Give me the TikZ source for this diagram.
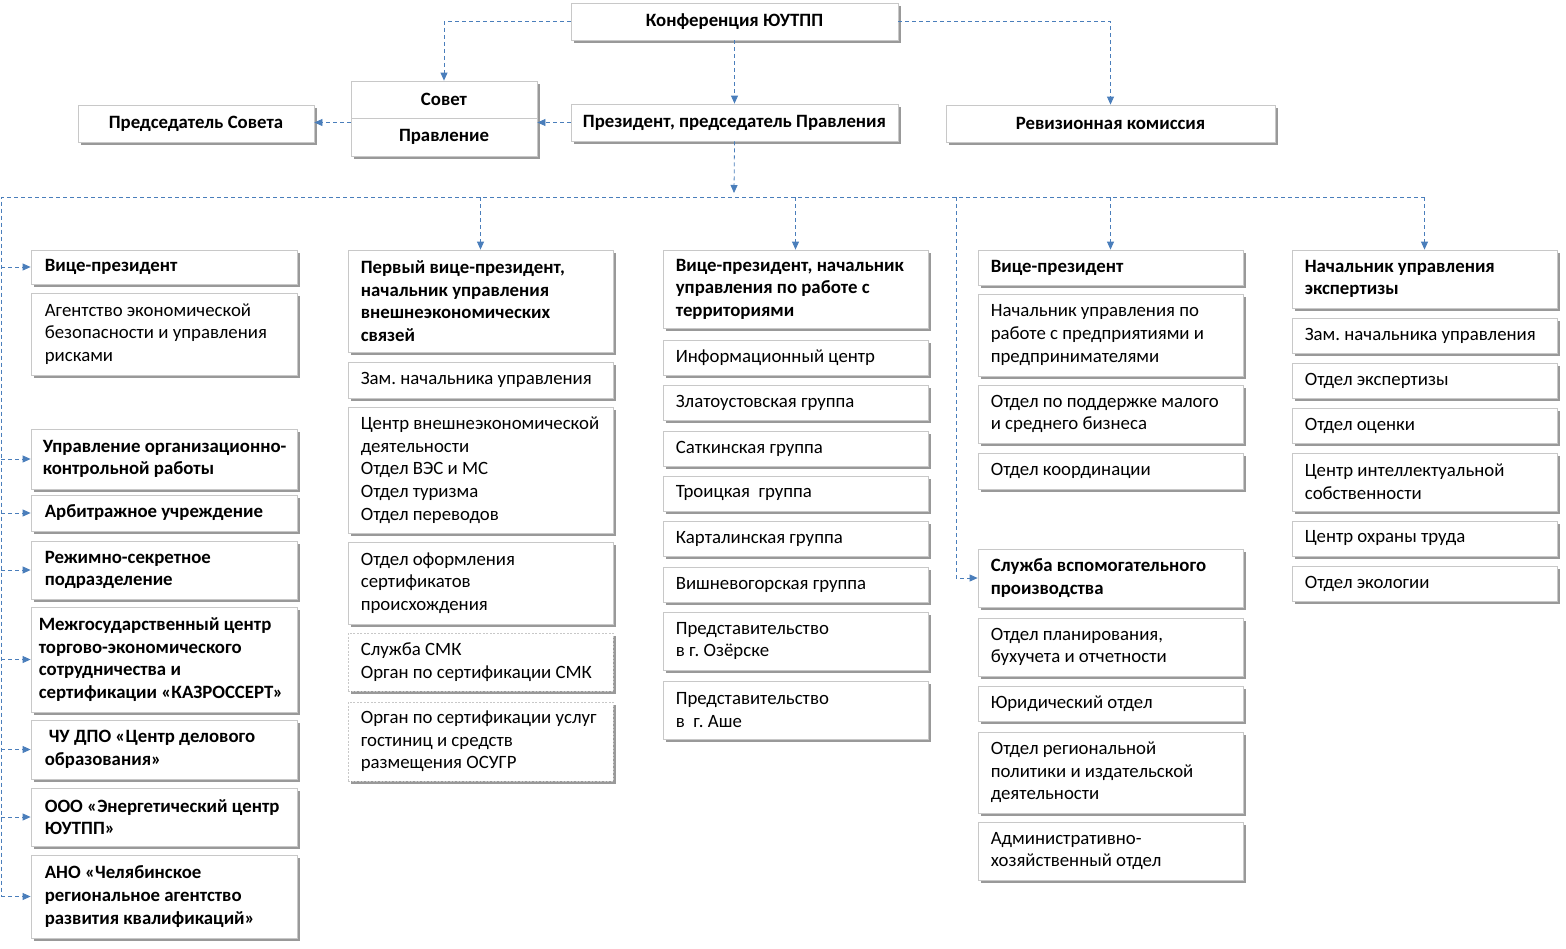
\documentclass[tikz,border=0pt]{standalone}
\usepackage{fontspec}
\setmainfont{Carlito}
\usetikzlibrary{arrows.meta,shadows}
\frenchspacing
\definecolor{lnk}{HTML}{4A7EBB}
\definecolor{bord}{HTML}{C8C8C8}
\newcommand\ob[8][14]{%
  \pgfmathsetmacro\cx{(#4+#6)/2}%
  \pgfmathsetmacro\cy{(#5+#7)/2}%
  \pgfmathsetmacro\bw{#6-#4}%
  \pgfmathsetmacro\bh{#7-#5}%
  \node[box,#2,minimum width=\bw pt,minimum height=\bh pt] (#3) at (\cx,\cy) {};
  \node[txt,#2,anchor=west] (#3-t) at ([xshift=#1pt]#3.west) {#8};
}
\begin{document}
\begin{tikzpicture}[x=1pt,y=-1pt,
  box/.style={draw=bord,line width=0.8pt,fill=white,inner sep=0pt,
    drop shadow={shadow xshift=2.5pt,shadow yshift=-2.5pt,fill=black,opacity=0.4}},
  txt/.style={inner sep=0pt,align=left,font=\fontsize{18.8}{22.6}\selectfont\frenchspacing},
  tb/.style={font=\fontsize{18.8}{22.6}\selectfont\bfseries\frenchspacing},
  tn/.style={},
  td/.style={dash pattern=on 2pt off 1.5pt},
  line/.style={draw=lnk,line width=0.8pt,dash pattern=on 4pt off 3pt},
  conn/.style={line,-{Triangle[length=8pt,width=7pt]}}]
\useasboundingbox (0,0) rectangle (1566,948);
% top
\ob{tb}{conf}{571}{3}{898}{40}{}
\node[txt,tb] (conf-t) at (conf) {Конференция ЮУТПП};
\ob{tb}{sovet}{351}{81}{537}{118}{}
\node[txt,tb] (sovet-t) at (sovet) {Совет};
\ob{tb}{pravl}{351}{118}{537}{156}{}
\node[txt,tb] (pravl-t) at (pravl) {Правление};
\ob{tb}{predsov}{78}{105}{314}{142}{}
\node[txt,tb] (predsov-t) at (predsov) {Председатель Совета};
\ob{tb}{pres}{571}{104}{898}{141}{}
\node[txt,tb] (pres-t) at (pres) {Президент, председатель Правления};
\ob{tb}{rev}{946}{105}{1275}{142}{}
\node[txt,tb] (rev-t) at (rev) {Ревизионная комиссия};
% column 1
\ob{tb}{a1}{31}{250}{297}{284}{Вице-президент}
\ob{tn}{a2}{31}{293}{297}{375}{Агентство экономической\\безопасности и управления\\рисками}
\ob[12]{tb}{a3}{31}{429}{297}{489}{Управление организационно-\\контрольной работы}
\ob{tb}{a4}{31}{495}{297}{531}{Арбитражное учреждение}
\ob{tb}{a5}{31}{541}{297}{599}{Режимно-секретное\\подразделение}
\ob[8]{tb}{a6}{31}{607}{297}{712}{Межгосударственный центр\\торгово-экономического\\сотрудничества и\\сертификации «КАЗРОССЕРТ»}
\ob{tb}{a7}{31}{720}{297}{779}{\hspace{4pt}ЧУ ДПО «Центр делового\\образования»}
\ob{tb}{a8}{31}{788}{297}{846}{ООО «Энергетический центр\\ЮУТПП»}
\ob{tb}{a9}{31}{855}{297}{938}{АНО «Челябинское\\региональное агентство\\развития квалификаций»}
% column 2
\ob[13]{tb}{b1}{348}{250}{613}{352}{Первый вице-президент,\\начальник управления\\внешнеэкономических\\связей}
\ob[13]{tn}{b2}{348}{362}{613}{398}{Зам. начальника управления}
\ob[13]{tn}{b3}{348}{407}{613}{533}{Центр внешнеэкономической\\деятельности\\Отдел ВЭС и МС\\Отдел туризма\\Отдел переводов}
\ob[13]{tn}{b4}{348}{542}{613}{624}{Отдел оформления\\сертификатов\\происхождения}
\ob[13]{td}{b5}{348}{633}{613}{691}{Служба СМК\\Орган по сертификации СМК}
\ob[13]{td}{b6}{348}{702}{613}{781}{Орган по сертификации услуг\\гостиниц и средств\\размещения ОСУГР}
% column 3
\ob[13]{tb}{c1}{663}{250}{928}{328}{Вице-президент, начальник\\управления по работе с\\территориями}
\ob[13]{tn}{c2}{663}{340}{928}{375}{Информационный центр}
\ob[13]{tn}{c3}{663}{385}{928}{420}{Златоустовская группа}
\ob[13]{tn}{c4}{663}{431}{928}{466}{Саткинская группа}
\ob[13]{tn}{c5}{663}{476}{928}{511}{Троицкая~ группа}
\ob[13]{tn}{c6}{663}{521}{928}{556}{Карталинская группа}
\ob[13]{tn}{c7}{663}{567}{928}{602}{Вишневогорская группа}
\ob[13]{tn}{c8}{663}{612}{928}{670}{Представительство\\в г. Озёрске}
\ob[13]{tn}{c9}{663}{681}{928}{739}{Представительство\\в~ г. Аше}
% column 4
\ob[13]{tb}{d1}{978}{250}{1243}{285}{Вице-президент}
\ob[13]{tn}{d2}{978}{294}{1243}{376}{Начальник управления по\\работе с предприятиями и\\предпринимателями}
\ob[13]{tn}{d3}{978}{385}{1243}{443}{Отдел по поддержке малого\\и среднего бизнеса}
\ob[13]{tn}{d4}{978}{453}{1243}{489}{Отдел координации}
\ob[13]{tb}{d5}{978}{549}{1243}{607}{Служба вспомогательного\\производства}
\ob[13]{tn}{d6}{978}{618}{1243}{676}{Отдел планирования,\\бухучета и отчетности}
\ob[13]{tn}{d7}{978}{686}{1243}{721}{Юридический отдел}
\ob[13]{tn}{d8}{978}{732}{1243}{813}{Отдел региональной\\политики и издательской\\деятельности}
\ob[13]{tn}{d9}{978}{822}{1243}{880}{Административно-\\хозяйственный отдел}
% column 5
\ob[13]{tb}{e1}{1292}{250}{1557}{308}{Начальник управления\\экспертизы}
\ob[13]{tn}{e2}{1292}{318}{1557}{353}{Зам. начальника управления}
\ob[13]{tn}{e3}{1292}{363}{1557}{398}{Отдел экспертизы}
\ob[13]{tn}{e4}{1292}{408}{1557}{443}{Отдел оценки}
\ob[13]{tn}{e5}{1292}{453}{1557}{511}{Центр интеллектуальной\\собственности}
\ob[13]{tn}{e6}{1292}{521}{1557}{556}{Центр охраны труда}
\ob[13]{tn}{e7}{1292}{566}{1557}{601}{Отдел экологии}
% connectors top
\draw[conn] (conf.west) -| (sovet.north);
\draw[conn] (conf.south) -- (pres.north);
\draw[conn] (conf.east) -| (rev.north);
\draw[conn] (pres.west) -- (pres.west -| pravl.east);
\draw[conn] (pres.west -| pravl.west) -- (pres.west -| predsov.east);
% bus
\coordinate (bus) at (734,197);
\coordinate (busL) at (1,197);
\coordinate (busS) at (956,197);
\draw[conn] (pres.south) -- ([yshift=4pt]bus);
\draw[line] (e1.north |- bus) -- (busL) -- (busL |- a9.west);
\foreach \n in {a1,a3,a4,a5,a6,a7,a8,a9}
  \draw[conn] (busL |- \n.west) -- (\n.west);
\foreach \n in {b1,c1,d1,e1}
  \draw[conn] (\n.north |- bus) -- (\n.north);
\draw[conn] (busS) |- (d5.west);
\end{tikzpicture}
\end{document}
